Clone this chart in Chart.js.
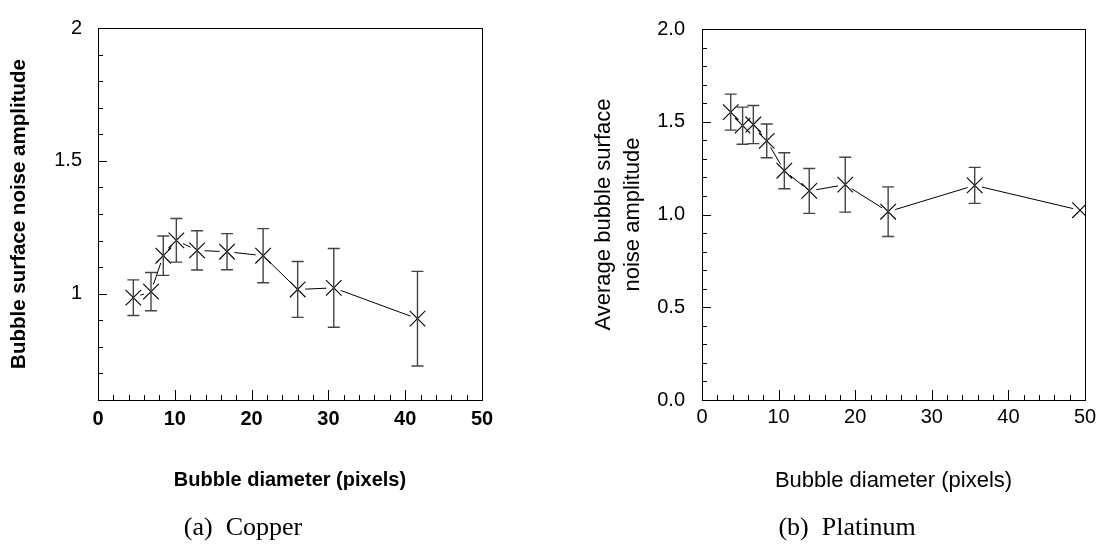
<!DOCTYPE html>
<html><head><meta charset="utf-8">
<script src="https://cdn.jsdelivr.net/npm/chart.js@4.4.1/dist/chart.umd.min.js"></script>
<style>
html,body{margin:0;padding:0;background:#fff;width:1103px;height:551px;overflow:hidden;position:relative}
canvas{position:absolute;top:0}
#c1{left:0}
#c2{left:551px}
.cap{position:absolute;font-family:"Liberation Serif","Times New Roman",serif;font-size:26px;line-height:30px;color:#000;white-space:pre;transform:translateX(-50%)}
</style></head><body>
<canvas id="c1" width="551" height="551"></canvas>
<canvas id="c2" width="552" height="551"></canvas>
<div class="cap" style="left:243px;top:512px">(a)  Copper</div>
<div class="cap" style="left:847px;top:512px">(b)  Platinum</div>
<script>
// ---- Data: (a) Copper ----
const copperDiameter = [4.6, 6.9, 8.5, 10.2, 12.9, 16.8, 21.5, 26.0, 30.7, 41.6];
const copperAmplitude = [0.985, 1.008, 1.143, 1.201, 1.163, 1.158, 1.143, 1.016, 1.022, 0.906];
const copperError = [0.067, 0.072, 0.074, 0.082, 0.074, 0.068, 0.102, 0.105, 0.148, 0.178];
const copperXTicks = [0, 10, 20, 30, 40, 50];
const copperXTickLabels = ['0', '10', '20', '30', '40', '50'];
const copperYTicks = [1, 1.5, 2];
const copperYTickLabels = ['1', '1.5', '2'];

// ---- Data: (b) Platinum ----
const platinumDiameter = [3.75, 5.3, 6.7, 8.45, 10.75, 14.0, 18.7, 24.3, 35.6, 49.35];
const platinumAmplitude = [1.552, 1.479, 1.485, 1.397, 1.236, 1.127, 1.161, 1.015, 1.157, 1.023];
const platinumError = [0.097, 0.100, 0.103, 0.091, 0.097, 0.121, 0.148, 0.134, 0.097, 0];
const platinumXTicks = [0, 10, 20, 30, 40, 50];
const platinumXTickLabels = ['0', '10', '20', '30', '40', '50'];
const platinumYTicks = [0, 0.5, 1.0, 1.5, 2.0];
const platinumYTickLabels = ['0.0', '0.5', '1.0', '1.5', '2.0'];

const errorBars = {
  id: 'errorBars',
  afterDatasetsDraw(chart, args, o) {
    const {ctx} = chart, x = chart.scales.x, y = chart.scales.y;
    ctx.save();
    ctx.strokeStyle = '#444';
    ctx.lineWidth = 1.4;
    o.xs.forEach((xv, i) => {
      const e = o.es[i];
      if (!e) return;
      const px = x.getPixelForValue(xv);
      const t = y.getPixelForValue(o.ys[i] + e);
      const b = y.getPixelForValue(o.ys[i] - e);
      ctx.beginPath();
      ctx.moveTo(px, t); ctx.lineTo(px, b);
      ctx.moveTo(px - 6, t); ctx.lineTo(px + 6, t);
      ctx.moveTo(px - 6, b); ctx.lineTo(px + 6, b);
      ctx.stroke();
    });
    ctx.restore();
  }
};

const frameTicks = {
  id: 'frameTicks',
  afterDraw(chart, args, o) {
    const {ctx, chartArea: a} = chart, x = chart.scales.x, y = chart.scales.y;
    ctx.save();
    ctx.strokeStyle = '#000';
    ctx.lineWidth = 1;
    ctx.strokeRect(Math.round(a.left) + 0.5, Math.round(a.top) + 0.5, Math.round(a.right - a.left), Math.round(a.bottom - a.top));
    ctx.beginPath();
    const nx = Math.round((x.max - x.min) / o.xMinor);
    for (let k = 0; k <= nx; k++) {
      const v = x.min + k * o.xMinor;
      const major = Math.abs(v / o.xMajor - Math.round(v / o.xMajor)) < 1e-6;
      const px = Math.round(x.getPixelForValue(v)) + 0.5;
      ctx.moveTo(px, a.bottom); ctx.lineTo(px, a.bottom - (major ? 10 : 5));
    }
    const ny = Math.round((y.max - y.min) / o.yMinor);
    for (let k = 0; k <= ny; k++) {
      const v = y.min + k * o.yMinor;
      const major = Math.abs(v / o.yMajor - Math.round(v / o.yMajor)) < 1e-6;
      const py = Math.round(y.getPixelForValue(v)) + 0.5;
      ctx.moveTo(a.left, py); ctx.lineTo(a.left + (major ? 9 : 5), py);
    }
    ctx.stroke();
    ctx.restore();
  }
};

function makeChart(id, xs, ys, es, xTicks, xLabels, yTicks, yLabels, yMin, yMax, yMajor, s) {
  const pts = xs.map((v, i) => ({x: v, y: ys[i]}));
  return new Chart(document.getElementById(id), {
    type: 'scatter',
    data: {datasets: [
      {data: pts, showLine: false, pointStyle: 'crossRot', pointRadius: 11, borderColor: '#000', borderWidth: 1.1, order: 1},
      {data: pts, showLine: false, pointStyle: 'circle', pointRadius: 7.5, backgroundColor: '#fff', borderWidth: 0, order: 2},
      {data: pts, showLine: true, pointRadius: 0, borderColor: '#000', borderWidth: 1, fill: false, order: 3}
    ]},
    options: {
      responsive: false, animation: false, events: [],
      layout: {padding: {left: 0, top: 17, right: s.padRight, bottom: 0}},
      plugins: {
        legend: {display: false}, tooltip: {enabled: false},
        errorBars: {xs, ys, es},
        frameTicks: {xMinor: 2, xMajor: 10, yMinor: 0.1, yMajor}
      },
      scales: {
        x: {
          type: 'linear', min: 0, max: 50,
          afterBuildTicks: sc => { sc.ticks = xTicks.map(v => ({value: v})); },
          afterFit: sc => { sc.height = 151; },
          grid: {display: false, drawTicks: false}, border: {display: false},
          ticks: {padding: s.xTickPad, color: '#000', autoSkip: false, maxRotation: 0,
                  font: {family: 'Liberation Sans, Arial, sans-serif', size: 20, weight: s.xTickWeight},
                  callback: (v, i) => xLabels[i]},
          title: {display: true, text: s.xTitle, color: '#000',
                  font: {family: 'Liberation Sans, Arial, sans-serif', size: s.xTitleSize, weight: s.titleWeight, lineHeight: 1.2},
                  padding: {top: 0, bottom: s.xTitlePad}}
        },
        y: {
          type: 'linear', min: yMin, max: yMax,
          afterBuildTicks: sc => { sc.ticks = yTicks.map(v => ({value: v})); },
          afterFit: sc => { sc.width = s.yWidth; },
          grid: {display: false, drawTicks: false}, border: {display: false},
          ticks: {padding: s.yTickPad, color: '#000', autoSkip: false,
                  font: {family: 'Liberation Sans, Arial, sans-serif', size: 20, weight: 'normal'},
                  callback: (v, i) => yLabels[i]},
          title: {display: true, text: s.yTitle, color: '#000',
                  font: {family: 'Liberation Sans, Arial, sans-serif', size: s.yTitleSize, weight: s.titleWeight, lineHeight: s.yTitleLH},
                  padding: {top: s.yTitlePad, bottom: 0}}
        }
      }
    },
    plugins: [errorBars, frameTicks]
  });
}

makeChart('c1', copperDiameter, copperAmplitude, copperError, copperXTicks, copperXTickLabels,
  copperYTicks, copperYTickLabels, 0.6, 2, 0.5, {
    padRight: 69, yWidth: 98, xTickPad: 7, yTickPad: 16, xTickWeight: 'bold', titleWeight: 'bold',
    xTitle: 'Bubble diameter (pixels)', xTitleSize: 20, xTitlePad: 59,
    yTitle: 'Bubble surface noise amplitude', yTitleSize: 20.5, yTitleLH: 1.2, yTitlePad: 7
  });

makeChart('c2', platinumDiameter, platinumAmplitude, platinumError, platinumXTicks, platinumXTickLabels,
  platinumYTicks, platinumYTickLabels, 0, 2, 0.5, {
    padRight: 18, yWidth: 151, xTickPad: 5, yTickPad: 17, xTickWeight: 'normal', titleWeight: 'normal',
    xTitle: 'Bubble diameter (pixels)', xTitleSize: 22, xTitlePad: 57,
    yTitle: ['Average bubble surface', 'noise amplitude'], yTitleSize: 22, yTitleLH: 1.3, yTitlePad: 39
  });
</script>
</body></html>
